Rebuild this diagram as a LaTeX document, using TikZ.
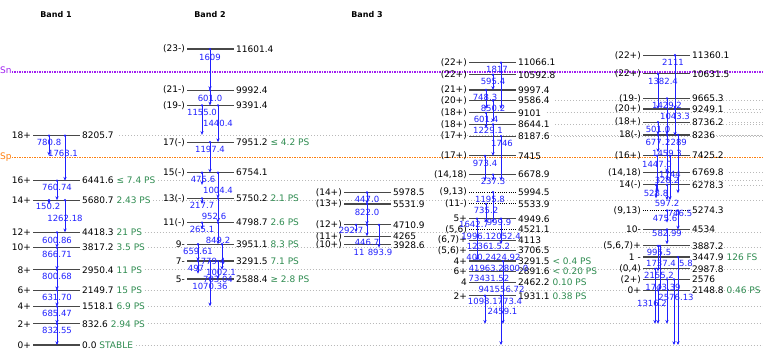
\documentclass[tikz,border=0pt]{standalone}
\usepackage{fontspec}
\setmainfont{DejaVu Sans}
\usetikzlibrary{arrows.meta,positioning}
\definecolor{lvlgray}{HTML}{484848}
\definecolor{tblue}{HTML}{2020FF}
\definecolor{lifegreen}{HTML}{2E8B50}
\definecolor{snpurple}{HTML}{A020F0}
\definecolor{sporange}{HTML}{FF7F0E}
\begin{document}
\begin{tikzpicture}[x=1pt,y=0.02551pt,
  lvl/.style={draw=lvlgray,line width=1.2pt},
  ulvl/.style={draw=black,line width=1pt,dash pattern=on 1pt off 1.2pt},
  spin/.style={anchor=east,inner sep=.5pt,font=\fontsize{9}{10}\selectfont},
  elab/.style={anchor=west,inner sep=.5pt,font=\fontsize{9}{10}\selectfont},
  life/.style={anchor=west,inner sep=.5pt,text=lifegreen,font=\fontsize{9}{10}\selectfont},
  gam/.style={draw=tblue,line width=.85pt,-{Stealth[length=3.8pt,width=3.2pt]}},
  glab/.style={text=tblue,inner sep=0pt,font=\fontsize{8.5}{9}\selectfont},
  guide/.style={draw=gray!55,line width=.7pt,dash pattern=on .7pt off 2.3pt},
  sep/.style={line width=1.3pt,dash pattern=on 1.2pt off 1.3pt},
  head/.style={font=\fontsize{8}{9}\selectfont\bfseries}]
\useasboundingbox (0,-666.4) rectangle (763,13524.1);
\coordinate (re) at (763,0);
\node[head] (h1) at (56,12936) {Band 1};
\node[head] (h2) at (210,12936) {Band 2};
\node[head] (h3) at (367,12936) {Band 3};
\node[anchor=west,inner sep=0pt,text=snpurple,font=\fontsize{9}{10}\selectfont] (sn) at (0,10780) {Sn};
\draw[sep,snpurple] (sn.east |- 0,10702) -- (re |- 0,10702);
\node[anchor=west,inner sep=0pt,text=sporange,font=\fontsize{9}{10}\selectfont] (sp) at (0,7370) {Sp};
\draw[sep,sporange] (sp.east |- 0,7350) -- (re |- 0,7350);
\foreach \X/\E/\s/\l/\t/\g [count=\i] in {
  33/0/0+/0.0/STABLE/1, 33/832.6/2+/832.6/2.94 PS/1, 33/1518.1/4+/1518.1/6.9 PS/1,
  33/2149.7/6+/2149.7/15 PS/1, 33/2950.4/8+/2950.4/11 PS/1, 33/3817.2/10+/3817.2/3.5 PS/1,
  33/4418.3/12+/4418.3/21 PS/1, 33/5680.7/14+/5680.7/2.43 PS/1,
  33/6441.6/16+/6441.6/≤ 7.4 PS/1, 33/8205.7/18+/8205.7/{}/1,
  187/11601.4/{(23-)}/11601.4/{}/0, 187/9992.4/{(21-)}/9992.4/{}/0,
  187/9391.4/{(19-)}/9391.4/{}/0, 187/7951.2/17(-)/7951.2/≤ 4.2 PS/0,
  187/6754.1/15(-)/6754.1/{}/0, 187/5750.2/13(-)/5750.2/2.1 PS/0,
  187/4798.7/11(-)/4798.7/2.6 PS/0, 187/3951.1/9-/3951.1/8.3 PS/0,
  187/3291.5/7-/3291.5/7.1 PS/0, 187/2588.4/5-/2588.4/≥ 2.8 PS/0,
  344/5978.5/{(14+)}/5978.5/{}/0, 344/5531.9/{(13+)}/5531.9/{}/0,
  344/4710.9/{(12+)}/4710.9/{}/0, 344/4265/{(11+)}/4265/{}/0,
  344/3928.6/{(10+)}/3928.6/{}/0,
  469/11066.1/{(22+)}/11066.1/{}/0, 469/10592.8/{(22+)}/10592.8/{}/0,
  469/9997.4/{(21+)}/9997.4/{}/0, 469/9586.4/{(20+)}/9586.4/{}/1,
  469/9101/{(18+)}/9101/{}/1, 469/8644.1/{(18+)}/8644.1/{}/1,
  469/8187.6/{(17+)}/8187.6/{}/1, 469/7415/{(17+)}/7415/{}/0,
  469/6678.9/{(14,18)}/6678.9/{}/0, 469/5994.5/{(9,13)}/5994.5/{}/2,
  469/5533.9/{(11-)}/5533.9/{}/2, 469/4949.6/5+/4949.6/{}/0,
  469/4521.1/{(5,6)}/4521.1/{}/2, 469/4113/{(6,7)+}/4113/{}/0,
  469/3706.5/{(5,6)+}/3706.5/{}/0, 469/3291.5/4+/3291.5/< 0.4 PS/0,
  469/2891.6/6+/2891.6/< 0.20 PS/0, 469/2462.2/4/2462.2/0.10 PS/0,
  469/1931.1/2+/1931.1/0.38 PS/0,
  643/11360.1/{(22+)}/11360.1/{}/0, 643/10631.5/{(22+)}/10631.5/{}/0,
  643/9665.3/{(19-)}/9665.3/{}/0, 643/9249.1/{(20+)}/9249.1/{}/1,
  643/8736.2/{(18+)}/8736.2/{}/1, 643/8236/18(-)/8236/{}/1,
  643/7425.2/{(16+)}/7425.2/{}/0, 643/6769.8/{(14,18)}/6769.8/{}/1,
  643/6278.3/14(-)/6278.3/{}/1, 643/5274.3/{(9,13)}/5274.3/{}/2,
  643/4534/10-/4534/{}/0, 643/3887.2/{(5,6,7)+}/3887.2/{}/0,
  643/3447.9/1 -/3447.9/126 FS/0, 643/2987.8/{(0,4)}/2987.8/{}/0,
  643/2576/{(2+)}/2576/{}/0, 643/2148.8/0+/2148.8/0.46 PS/0}{
  \ifnum\g>1 \draw[ulvl] (\X,\E) -- ++(47,0);
  \else \draw[lvl] (\X,\E) -- ++(47,0);\fi
  \node[spin] (s\i) at (\X-1.5,\E) {\s};
  \node[elab] (e\i) at (\X+48.5,\E) {\l};
  \node[life] (t\i) at ([xshift=1.5pt]e\i.east) {\t};
  \ifodd\g \draw[guide] ([xshift=2pt]t\i.east) -- (t\i.east -| re);\fi
}
\foreach \x/\a/\b/\t/\dx/\dy in {
  57/832.6/0/832.55/0/7, 57/1518.1/832.6/685.47/0/7, 57/2149.7/1518.1/631.70/0/7,
  57/2950.4/2149.7/800.68/0/7, 57/3817.2/2950.4/866.71/0/7, 57/4418.3/3817.2/600.86/0/8,
  65/5680.7/4418.3/1262.18/0/18, 49/5680.7/5530.5/150.2/-1/6, 57/6441.6/5680.7/760.74/0/7,
  49/8205.7/7425/780.8/0/7, 65/8205.7/6441.6/1763.1/-2/18,
  210/11601.4/9992.4/1609/0/8, 210/9992.4/9391.4/601.0/0/8, 202/9391.4/8236.4/1155.0/0/7,
  218/9391.4/7951.2/1440.4/0/18, 210/7951.2/6754.1/1197.4/0/7, 202/6754.1/6278.5/475.6/1/7,
  218/6754.1/5750.2/1004.4/0/18, 202/5750.2/5532.5/217.7/0/7, 218/5750.2/4798.7/952.6/-4/18,
  202/4798.7/4533.6/265.1/0/7, 218/4798.7/3951.1/849.2/0/18, 198/3951.1/3291.5/659.61/0/7,
  210/3291.5/2512.1/779.4/3/0, 198/3291.5/2794/497/-2/7, 222/3951.1/2950.4/1002.1/-1/28,
  218/3291.5/2588.4/703.04/0/18, 210/2588.4/1518.1/1070.36/0/7,
  367/5978.5/5531.9/447.0/0/7, 367/5531.9/4710.9/822.0/0/8, 356/4710.9/4418.3/292.7/-5/6,
  367/4710.9/4265/446.7/0/18, 379/4710.9/3817.2/893.9/1/28,
  501/11066.1/9249.1/1817/-4/7, 493/10592.8/9997.4/595.4/0/7, 486/9997.4/9249.1/748.3/-1/7,
  493/9586.4/8736.2/850.2/0/8, 486/9101/8499.6/601.4/0/7, 493/8644.1/7415/1229.1/-5/6,
  501/8187.6/6441.6/1746/1/7, 485/7415/6441.6/973.4/0/8, 493/6678.9/6441.6/237.3/0/7,
  493/5994.5/4798.7/1195.8/-3/7, 486/5533.9/4798.7/735.2/0/7,
  477/4949.6/3306.9/1642.7/-3/6, 501/4949.6/3949.7/999.9/-2/4,
  485/1931.1/832.6/{}/0/7, 501/1931.1/0/{}/0/7, 503/3291.5/832.6/{}/0/7,
  675/11360.1/9249.1/2111/-2/7, 658/10631.5/9249.1/1382.4/5/8, 667/9665.3/8236/1429.2/0/7,
  675/9249.1/8205.8/1043.3/0/7, 658/8736.2/8235.2/501.0/0/7, 658/8236/7559/677./-3/7,
  678/8236/5947/2289/-2/7, 667/8236/6769.8/1459.3/0/18, 657/7425.2/5978.2/1447.0/0/9,
  670/7425.2/5681.2/1744/0/19, 667/6769.8/6441.6/328.2/0/8, 656/6278.3/5749.5/528.8/0/9,
  667/6278.3/5681.1/597.2/0/19, 667/5274.3/4798.7/475.6/-2/8, 678/5274.3/4527.8/746.5/2/3,
  667/4534/3951/582.99/0/4, 658/3887.2/2891.7/995.5/1/7, 660/3887.2/2149.7/1737.4/1/17.5,
  655/2987.8/832.6/2155.2/4/7, 667/2576/832.6/1743.39/-4/8, 658/2148.8/832.6/1316.2/-6/13,
  674/2576/0/2576.13/2/18, 678/3447.9/0/{}/0/7}{
  \fill[tblue] (\x,\a) circle (1.3pt);
  \draw[gam] (\x,\a) -- (\x,\b);
  \node[glab] at ([xshift=\dx pt,yshift=-\dy pt]\x,\a) {\t};
}
\foreach \x/\E/\dy/\t in {
  491/4521.1/7/1996.12052.4, 488.5/4113/6.7/12361.5.2, 493.5/3706.5/7/400.2424.92,
  498.5/3291.5/7/41963.2800.0, 489/2891.6/7/73431.52, 501.5/2462.2/7/941556.72,
  495/1931.1/6/1098.1773.4, 502.5/1931.1/16/2459.1, 359/3928.6/8/11, 686/3887.2/17.5/5.8}{
  \node[glab] at ([yshift=-\dy pt]\x,\E) {\t};
}
\end{tikzpicture}
\end{document}
